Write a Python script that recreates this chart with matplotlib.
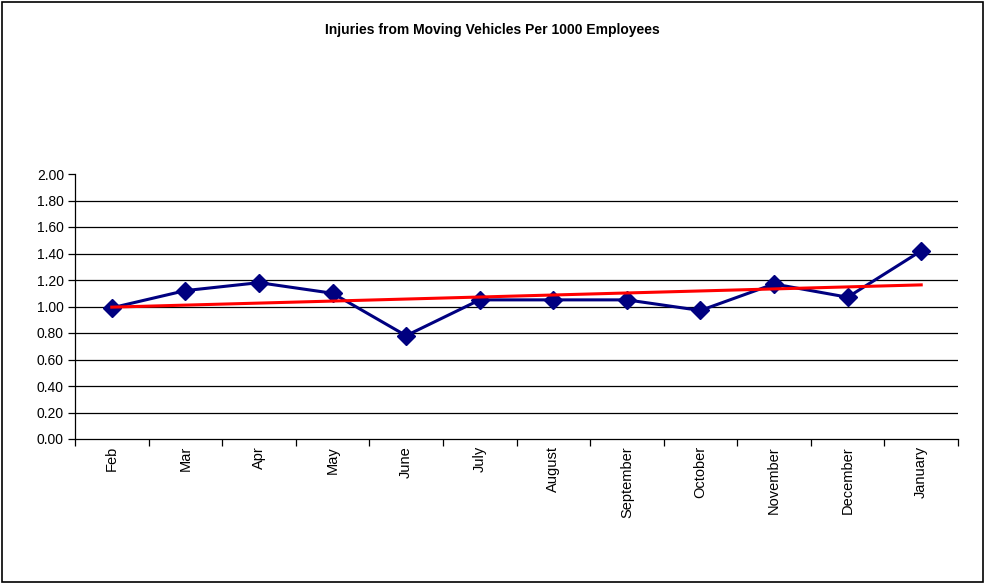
import numpy as np
import matplotlib
matplotlib.use("Agg")
import matplotlib.pyplot as plt
from matplotlib.patches import Rectangle

plt.rcParams['font.family'] = ['Liberation Sans', 'DejaVu Sans']

months = ["Feb", "Mar", "Apr", "May", "June", "July", "August",
          "September", "October", "November", "December", "January"]
rates = [0.99, 1.12, 1.18, 1.10, 0.78, 1.05, 1.05, 1.05, 0.97, 1.17, 1.07, 1.42]
yticks = [0.0, 0.2, 0.4, 0.6, 0.8, 1.0, 1.2, 1.4, 1.6, 1.8, 2.0]

x = np.arange(len(months))
coef = np.polyfit(x, rates, 1)
trend = np.poly1d(coef)

fig = plt.figure(figsize=(9.85, 5.83), dpi=100)
ax = fig.add_axes([75/985, 1-439/583, (958-75)/985, (439-174)/583])

# gridlines (no line at the top value)
for v in yticks[1:-1]:
    ax.axhline(v, color='black', lw=0.9, zorder=1)

ax.plot(x, rates, color='#000080', lw=2.2, marker='D', markersize=9.5,
        zorder=3)
ax.plot(x, trend(x), color='#ff0000', lw=2.2, zorder=4)

ax.set_xlim(-0.5, len(months) - 0.5)
ax.set_ylim(0, 2)
ax.set_yticks(yticks)
ax.set_yticklabels(['%.2f' % v for v in yticks], fontsize=10)

ax.set_xticks(x)
ax.set_xticklabels(months, rotation=90, fontsize=10.5, va='top')
ax.tick_params(axis='x', length=0, pad=5)
ax.set_xticks(np.arange(-0.5, len(months)), minor=True)
ax.tick_params(axis='x', which='minor', length=5, width=0.9, color='black')
ax.tick_params(axis='y', length=5, width=0.9, pad=3)

for s in ['top', 'right']:
    ax.spines[s].set_visible(False)
for s in ['left', 'bottom']:
    ax.spines[s].set_color('black')
    ax.spines[s].set_linewidth(0.9)

fig.text(0.5, 1 - 30/583, "Injuries from Moving Vehicles Per 1000 Employees",
         ha='center', va='center', fontsize=10, fontweight='bold')

fig.patches.append(Rectangle((2/985, 1/583), 981/985, 580/583,
                             transform=fig.transFigure, fill=False,
                             edgecolor='black', lw=1.2))

fig.savefig("out.png", dpi=100)
